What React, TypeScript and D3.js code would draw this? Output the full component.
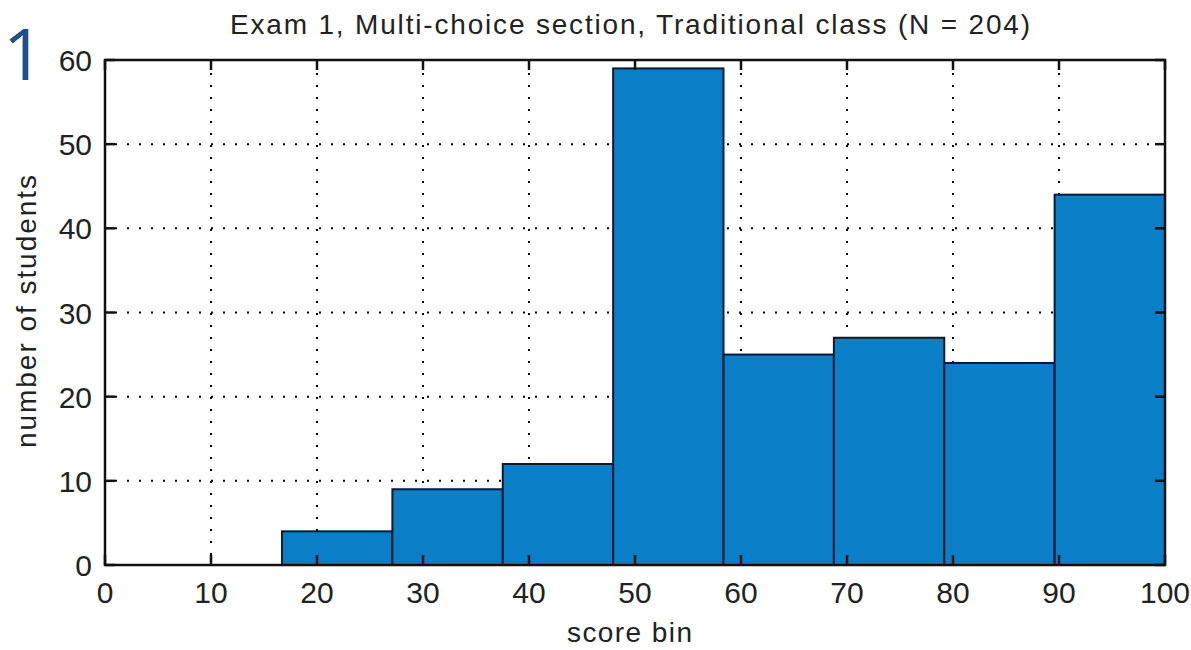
import React from 'react';
import * as d3 from 'd3';

// histogram: 8 equal bins between min and max score
const scoreMin = 16.7;
const scoreMax = 100;
const counts = [4, 9, 12, 59, 25, 27, 24, 44];
const xTicks = [0, 10, 20, 30, 40, 50, 60, 70, 80, 90, 100];
const yTicks = [0, 10, 20, 30, 40, 50, 60];

const W = 1191;
const H = 650;
const margin = { top: 60, right: 26, bottom: 85, left: 105 };

export default function App() {
  const x = d3.scaleLinear().domain([0, 100]).range([margin.left, W - margin.right]);
  const y = d3.scaleLinear().domain([0, 60]).range([H - margin.bottom, margin.top]);
  const binW = (scoreMax - scoreMin) / counts.length;
  const bins = counts.map((c, i) => ({ x0: scoreMin + i * binW, x1: scoreMin + (i + 1) * binW, c }));

  const x0 = x(0), x1 = x(100), y0 = y(0), y1 = y(60);
  const font = '"Liberation Sans", Arial, sans-serif';
  const tickLen = 10;

  return (
    <svg width={W} height={H} style={{ position: 'absolute', left: 0, top: 0, background: '#fff' }}>
      <text x={3} y={80} fontFamily='"Open Sans", "Noto Sans", sans-serif' fontSize={72} fill="#1f4e8c">1</text>

      {/* dotted grid, behind the bars */}
      <g stroke="#000" strokeWidth={2} strokeDasharray="2,10" strokeLinecap="butt">
        {xTicks.slice(1, -1).map(t => (
          <line key={'gx' + t} x1={x(t)} x2={x(t)} y1={y0 - tickLen} y2={y1 + tickLen} />
        ))}
        {yTicks.slice(1, -1).map(t => (
          <line key={'gy' + t} x1={x0 + tickLen} x2={x1 - tickLen} y1={y(t)} y2={y(t)} />
        ))}
      </g>

      {bins.map((b, i) => (
        <rect key={i} x={x(b.x0)} y={y(b.c)} width={x(b.x1) - x(b.x0)} height={y0 - y(b.c)}
          fill="#0a7fc7" stroke="#0a1a33" strokeWidth={2} />
      ))}

      {/* axes box and ticks */}
      <rect x={x0} y={y1} width={x1 - x0} height={y0 - y1} fill="none" stroke="#111" strokeWidth={2.5} />
      <g stroke="#111" strokeWidth={2.5}>
        {xTicks.map(t => (
          <g key={'tx' + t}>
            <line x1={x(t)} x2={x(t)} y1={y0} y2={y0 - tickLen} />
            <line x1={x(t)} x2={x(t)} y1={y1} y2={y1 + tickLen} />
          </g>
        ))}
        {yTicks.map(t => (
          <g key={'ty' + t}>
            <line x1={x0} x2={x0 + tickLen} y1={y(t)} y2={y(t)} />
            <line x1={x1} x2={x1 - tickLen} y1={y(t)} y2={y(t)} />
          </g>
        ))}
      </g>

      <g fontFamily={font} fontSize={30} fill="#222">
        {xTicks.map(t => (
          <text key={'lx' + t} x={x(t)} y={y0 + 38} textAnchor="middle">{t}</text>
        ))}
        {yTicks.map(t => (
          <text key={'ly' + t} x={x0 - 13} y={y(t) + 11} textAnchor="end">{t}</text>
        ))}
      </g>

      <text x={230} y={34} textLength={800} lengthAdjust="spacing" fontFamily={font} fontSize={28} fill="#222">
        Exam 1, Multi-choice section, Traditional class (N = 204)
      </text>
      <text x={567} y={642} textLength={125} lengthAdjust="spacing" fontFamily={font} fontSize={28} fill="#222">score bin</text>
      <text transform="translate(36,448) rotate(-90)" textLength={273} lengthAdjust="spacing" fontFamily={font} fontSize={28} fill="#222">
        number of students
      </text>
    </svg>
  );
}
